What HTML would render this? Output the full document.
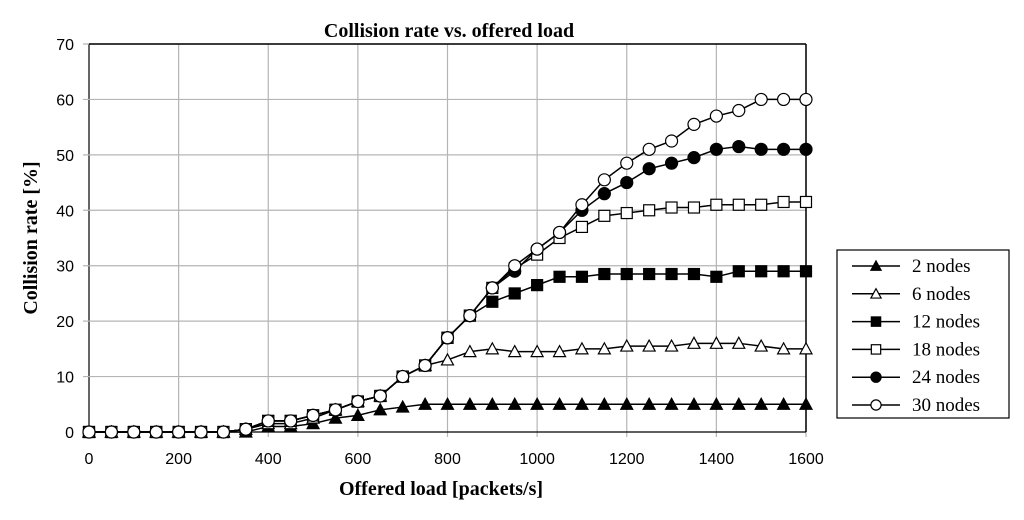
<!DOCTYPE html>
<html><head><meta charset="utf-8"><style>
body{margin:0;background:#fff;width:1024px;height:515px;overflow:hidden}
svg text{font-family:"Liberation Sans",sans-serif}
.t{font-family:"Liberation Serif",serif;font-weight:bold}
.lg{font-family:"Liberation Serif",serif}
</style></head><body>
<svg id="c" width="1024" height="515">
<text class="t" x="449" y="37" font-size="20" text-anchor="middle">Collision rate vs. offered load</text>
<text class="t" x="0" y="0" font-size="20" text-anchor="middle" transform="translate(37,238) rotate(-90)">Collision rate [%]</text>
<text class="t" x="441" y="495" font-size="20" text-anchor="middle">Offered load [packets/s]</text>
<g id="grid"></g><g id="series"></g>
<rect x="837" y="250" width="172" height="168" fill="#fff" stroke="#000" stroke-width="1.2"/>
<g id="legend"></g>
</svg>
<script>
const xs=[];for(let i=0;i<=1600;i+=50)xs.push(i);
const xTicks=[0,200,400,600,800,1000,1200,1400,1600];
const yTicks=[0,10,20,30,40,50,60,70];
const names=["2 nodes","6 nodes","12 nodes","18 nodes","24 nodes","30 nodes"];
const early=[0,0,0,0,0,0,0,0.5,2,2,3,4,5.5,6.5,10,12,17,21];
const s2=[0,0,0,0,0,0,0,0,1,1,1.5,2.5,3,4,4.5,5,5,5,5,5,5,5,5,5,5,5,5,5,5,5,5,5,5];
const s6=[0,0,0,0,0,0,0,0.5,1.5,1.5,2.5,4,5.5,6.5,10,12,13,14.5,15,14.5,14.5,14.5,15,15,15.5,15.5,15.5,16,16,16,15.5,15,15];
const s12=early.concat([23.5,25,26.5,28,28,28.5,28.5,28.5,28.5,28.5,28,29,29,29,29]);
const s18=early.concat([26,29.5,32,35,37,39,39.5,40,40.5,40.5,41,41,41,41.5,41.5]);
const s24=early.concat([26,29,33,36,40,43,45,47.5,48.5,49.5,51,51.5,51,51,51]);
const s30=early.concat([26,30,33,36,41,45.5,48.5,51,52.5,55.5,57,58,60,60,60]);
const series=[s2,s6,s12,s18,s24,s30];
const shapes=["tri","tri","sq","sq","ci","ci"],fills=["#000","#fff","#000","#fff","#000","#fff"];
const X=v=>89+v*(806-89)/1600, Y=v=>432-v*(432-44)/70;
const NS="http://www.w3.org/2000/svg";
function mk(t,a,p){const e=document.createElementNS(NS,t);for(const k in a)e.setAttribute(k,a[k]);p.appendChild(e);return e;}
const g=document.getElementById('grid');
xTicks.forEach(v=>{const l=mk('line',{x1:X(v),x2:X(v),y1:44,y2:437,stroke:v?'#b5b5b5':'#000','stroke-width':1.2},g);


const t=mk('text',{x:X(v),y:464,'font-size':16,'text-anchor':'middle'},g);t.textContent=v;

});
yTicks.forEach(v=>{const l=mk('line',{x1:83,x2:806,y1:Y(v),y2:Y(v),stroke:v?'#b5b5b5':'#000','stroke-width':1.2},g);


const t=mk('text',{x:74,y:Y(v)+6,'font-size':16,'text-anchor':'end'},g);t.textContent=v;

});
mk('line',{x1:89,x2:806,y1:44,y2:44,stroke:'#000','stroke-width':1.5},g);
mk('line',{x1:806,x2:806,y1:44,y2:432,stroke:'#000','stroke-width':1.5},g);
function marker(p,x,y,k,s){s=s||1;const a={fill:fills[k],stroke:'#000','stroke-width':1.2};let e;
if(shapes[k]=='tri'){a.points=`${x},${y-6*s} ${x-6*s},${y+5*s} ${x+6*s},${y+5*s}`;e=mk('polygon',a,p);}
else if(shapes[k]=='sq'){a.x=x-5.5*s;a.y=y-5.5*s;a.width=11*s;a.height=11*s;e=mk('rect',a,p);}
else{a.cx=x;a.cy=y;a.r=6*s;e=mk('circle',a,p);}return e;}
const sg=document.getElementById('series');
series.forEach((s,k)=>{const grp=mk('g',{},sg);


mk('polyline',{points:s.map((v,i)=>X(xs[i])+','+Y(v)).join(' '),fill:'none',stroke:'#000','stroke-width':1.5},grp);
s.forEach((v,i)=>{const m=marker(grp,X(xs[i]),Y(v),k);

});});
const lg=document.getElementById('legend');
names.forEach((n,k)=>{const y=266+k*27.8;const e=mk('g',{},lg);


mk('line',{x1:852,x2:900,y1:y,y2:y,stroke:'#000','stroke-width':1.5},e);marker(e,876,y,k,0.85);
const t=mk('text',{x:912,y:y+6,'font-size':19,'class':'lg'},e);t.textContent=n;});
</script>
</body></html>
